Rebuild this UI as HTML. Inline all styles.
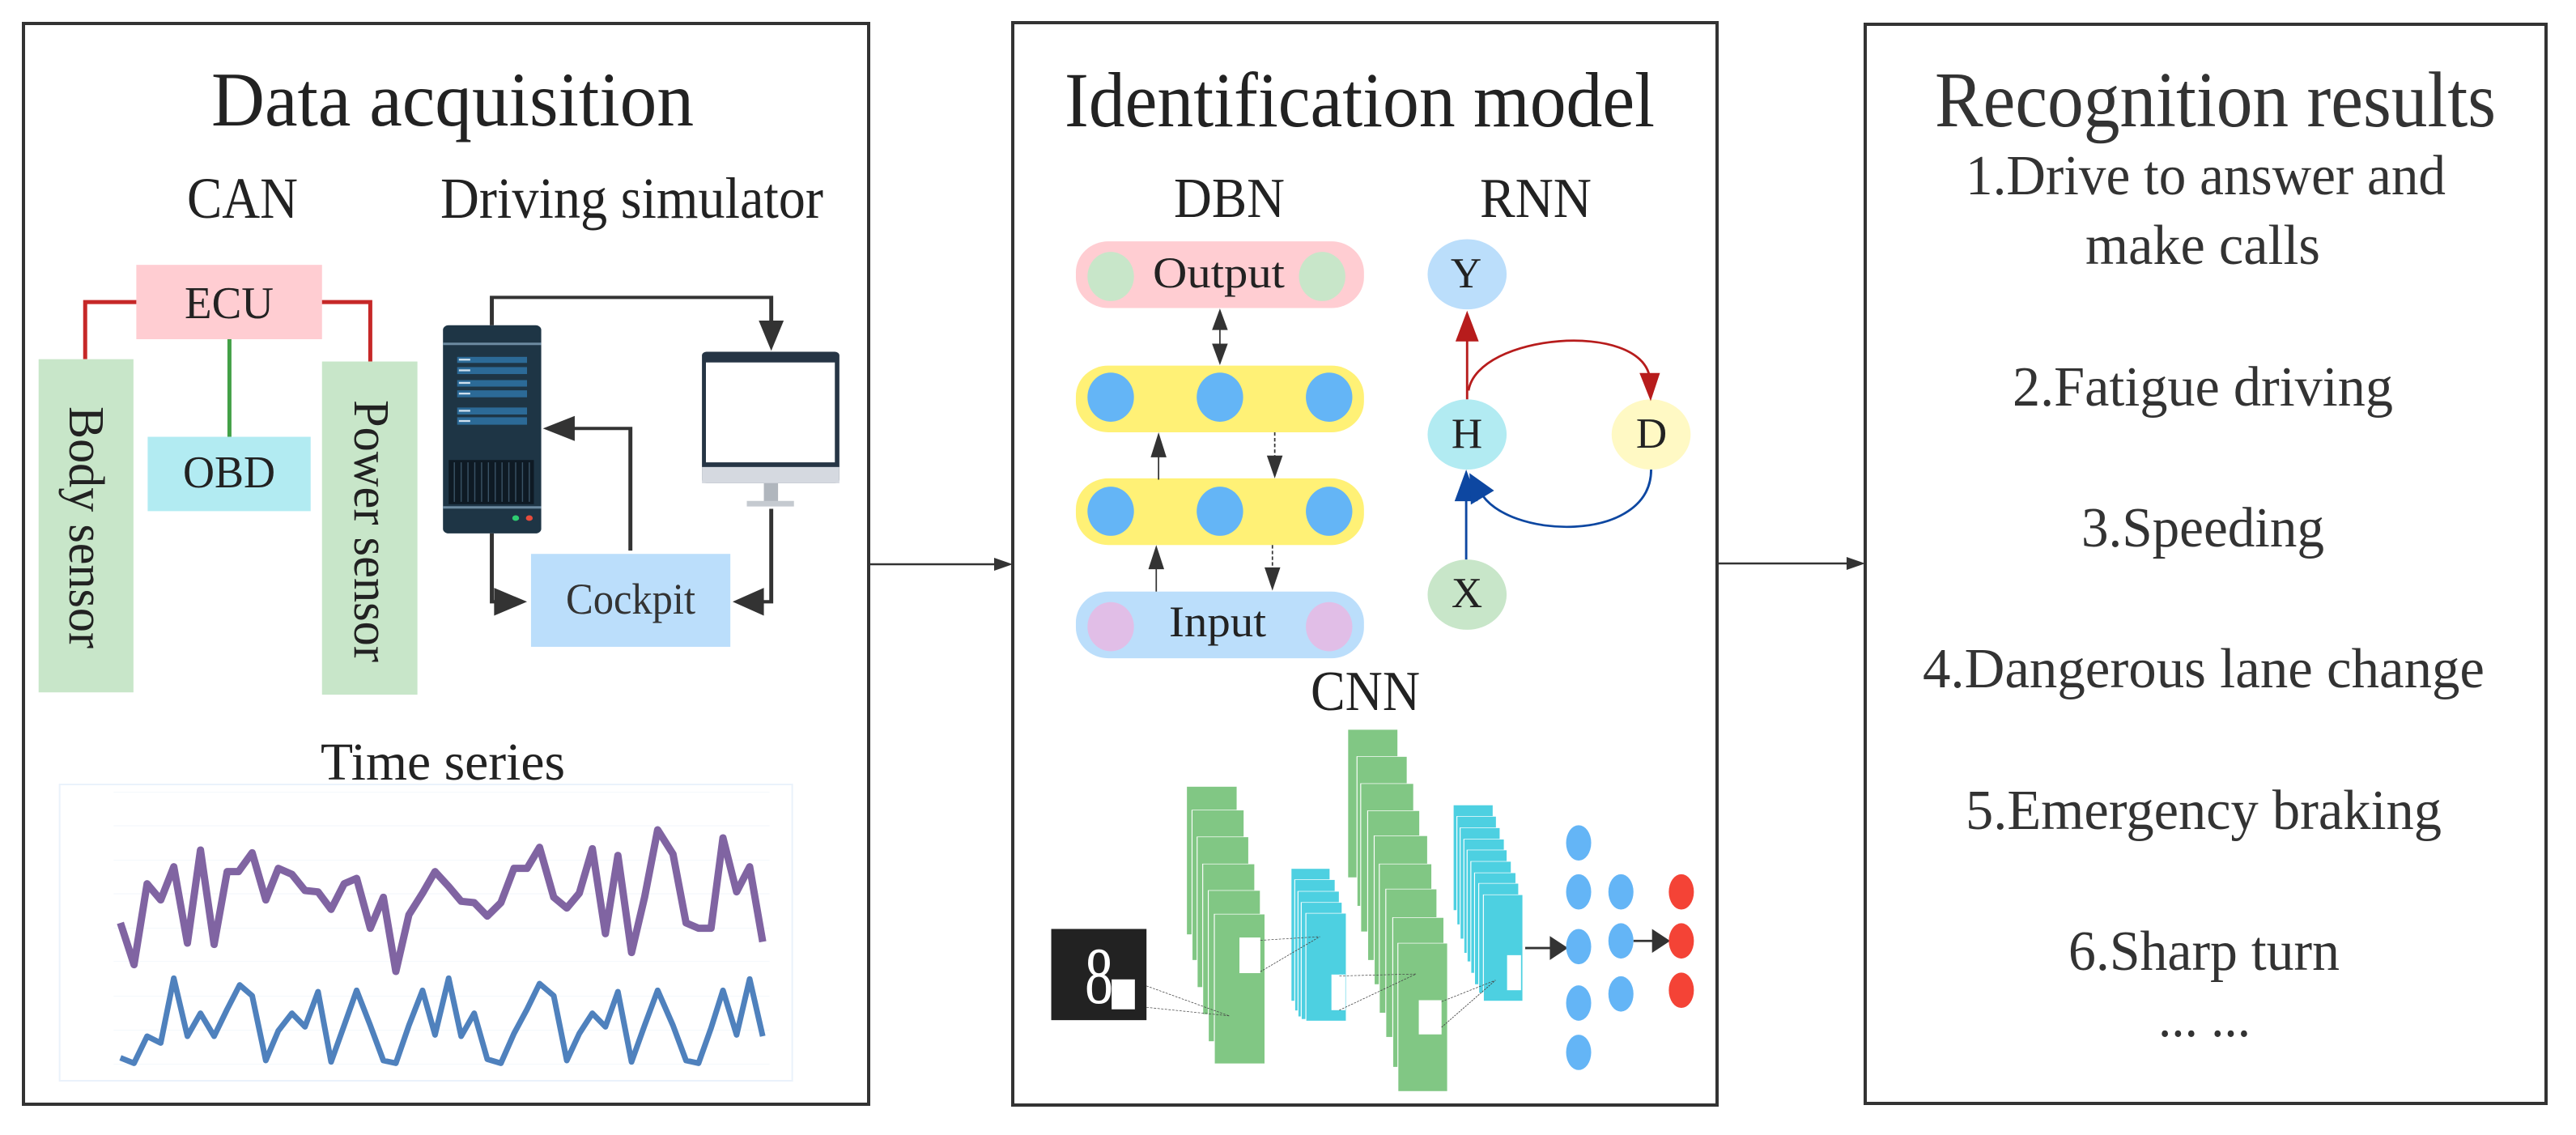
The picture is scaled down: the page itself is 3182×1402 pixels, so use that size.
<!DOCTYPE html>
<html><head><meta charset="utf-8"><style>
html,body{margin:0;padding:0;background:#fff}
#c{position:relative;width:3182px;height:1402px;overflow:hidden;background:#fff}
svg{position:absolute;overflow:visible}
svg text{font-family:"Liberation Serif","DejaVu Serif","Noto Serif CJK SC",serif !important}
</style></head><body><div id="c">

<svg style="left:0;top:0" width="1100" height="900" viewBox="0 0 1568 1568" preserveAspectRatio="none">
<rect x="240" y="570" width="327" height="160" fill="#ffcdd2"/>
<polyline points="240,650 150,650 150,773" fill="none" stroke="#c62828" stroke-width="5" vector-effect="non-scaling-stroke"/>
<polyline points="567,650 652,650 652,778" fill="none" stroke="#c62828" stroke-width="5" vector-effect="non-scaling-stroke"/>
<line x1="404" y1="730" x2="404" y2="940" stroke="#43a047" stroke-width="5" vector-effect="non-scaling-stroke"/>
<rect x="260" y="940" width="287" height="160" fill="#b2ebf2"/>
<rect x="68" y="773" width="167" height="717" fill="#c8e6c9"/>
<rect x="567" y="778" width="168" height="717" fill="#c8e6c9"/>
<rect x="780" y="700" width="173" height="448" rx="10" fill="#1e3545"/>
<line x1="780" y1="740" x2="953" y2="740" stroke="#6c8aa0" stroke-width="3" vector-effect="non-scaling-stroke"/>
<line x1="780" y1="1092" x2="953" y2="1092" stroke="#6c8aa0" stroke-width="3" vector-effect="non-scaling-stroke"/>
<g fill="#2c6a97"><rect x="805" y="768" width="123" height="13"/><rect x="805" y="790" width="123" height="15"/><rect x="805" y="818" width="123" height="14"/><rect x="805" y="840" width="123" height="15"/><rect x="805" y="877" width="123" height="15"/><rect x="805" y="898" width="123" height="16"/></g>
<g fill="#cfe0ee"><rect x="808" y="772" width="20" height="4"/><rect x="808" y="795" width="20" height="4"/><rect x="808" y="822" width="20" height="4"/><rect x="808" y="845" width="20" height="4"/><rect x="808" y="882" width="20" height="4"/><rect x="808" y="904" width="20" height="4"/></g>
<rect x="790" y="990" width="150" height="95" fill="#0e1a24"/>
<g stroke="#3a5366" stroke-width="2" vector-effect="non-scaling-stroke">
<line x1="800" y1="995" x2="800" y2="1080"/><line x1="812" y1="995" x2="812" y2="1080"/><line x1="824" y1="995" x2="824" y2="1080"/><line x1="836" y1="995" x2="836" y2="1080"/><line x1="848" y1="995" x2="848" y2="1080"/><line x1="860" y1="995" x2="860" y2="1080"/><line x1="872" y1="995" x2="872" y2="1080"/><line x1="884" y1="995" x2="884" y2="1080"/><line x1="896" y1="995" x2="896" y2="1080"/><line x1="908" y1="995" x2="908" y2="1080"/><line x1="920" y1="995" x2="920" y2="1080"/><line x1="932" y1="995" x2="932" y2="1080"/></g>
<ellipse cx="908" cy="1115" rx="6" ry="6" fill="#2ecc71"/><ellipse cx="932" cy="1115" rx="6" ry="6" fill="#e74c3c"/>
<rect x="1236" y="757" width="242" height="283" rx="8" fill="#263545"/>
<rect x="1243" y="780" width="227" height="215" fill="#fff"/>
<rect x="1236" y="1005" width="242" height="35" fill="#d5d9e0"/>
<rect x="1345" y="1040" width="25" height="40" fill="#b0b6bd"/>
<rect x="1315" y="1078" width="83" height="12" fill="#c5cad0"/>
<g fill="none" stroke="#333" stroke-width="7" vector-effect="non-scaling-stroke">
<polyline points="866,700 866,640 1358,640 1358,700"/>
<polyline points="866,1148 866,1295 885,1295"/>
<polyline points="1110,1185 1110,922 1005,922"/>
<polyline points="1358,1095 1358,1295 1340,1295"/>
</g>
<g fill="#333">
<polygon points="1336,690 1380,690 1358,755"/>
<polygon points="870,1265 870,1325 928,1295"/>
<polygon points="1012,895 1012,949 956,922"/>
<polygon points="1345,1265 1345,1325 1290,1295"/>
</g>
<rect x="935" y="1192" width="351" height="200" fill="#bbdefb"/>
</svg>

<svg style="left:0;top:900" width="1100" height="502" viewBox="0 0 1568 1506" preserveAspectRatio="none">
<rect x="105" y="207" width="1290" height="1098" fill="#fff" stroke="#eaf2fb" stroke-width="2" vector-effect="non-scaling-stroke"/>
<g stroke="#eef3fa" stroke-width="2" vector-effect="non-scaling-stroke">
<line x1="200" y1="235" x2="1355" y2="235"/><line x1="200" y1="360" x2="1355" y2="360"/><line x1="200" y1="487" x2="1355" y2="487"/><line x1="200" y1="612" x2="1355" y2="612"/><line x1="200" y1="740" x2="1355" y2="740"/><line x1="200" y1="862" x2="1355" y2="862"/><line x1="200" y1="992" x2="1355" y2="992"/><line x1="200" y1="1117" x2="1355" y2="1117"/><line x1="200" y1="1243" x2="1355" y2="1243"/></g>
<polyline fill="none" stroke="#8064a2" stroke-width="9" stroke-linejoin="round" vector-effect="non-scaling-stroke" points="212,720 236,875 259,575 283,635 306,512 330,795 353,450 377,800 400,530 420,530 444,460 468,635 490,518 514,540 537,600 560,605 583,670 606,575 628,555 652,740 675,625 697,900 720,690 744,610 766,530 790,585 812,640 835,645 858,695 882,645 905,518 928,518 950,440 975,625 998,665 1020,610 1043,445 1066,760 1088,470 1112,830 1135,625 1158,375 1185,465 1208,720 1230,740 1252,740 1273,405 1297,605 1320,512 1343,790"/>
<polyline fill="none" stroke="#4f81bd" stroke-width="7" stroke-linejoin="round" vector-effect="non-scaling-stroke" points="212,1220 236,1240 259,1140 283,1165 306,925 330,1140 353,1055 377,1140 400,1040 422,950 444,990 468,1230 490,1120 514,1055 537,1105 560,975 583,1235 606,1100 628,970 652,1100 675,1230 697,1240 720,1100 744,970 766,1135 790,925 812,1140 835,1055 858,1225 882,1240 905,1130 928,1040 950,945 975,990 998,1230 1020,1130 1043,1055 1066,1105 1088,975 1112,1235 1135,1100 1158,970 1185,1100 1208,1230 1230,1240 1252,1110 1273,970 1297,1135 1320,928 1343,1140"/>
</svg>

<svg style="left:1240px;top:0" width="900" height="850" viewBox="0 0 1568 1568" preserveAspectRatio="none">
<rect x="155" y="550" width="620" height="152" rx="70" ry="70" fill="#ffcdd2"/>
<ellipse cx="230" cy="630" rx="50" ry="56" fill="#c8e6c9"/><ellipse cx="685" cy="630" rx="50" ry="56" fill="#c8e6c9"/>
<rect x="155" y="833" width="620" height="152" rx="70" ry="70" fill="#fff176"/>
<rect x="155" y="1090" width="620" height="152" rx="70" ry="70" fill="#fff176"/>
<g fill="#64b5f6"><ellipse cx="230" cy="905" rx="50" ry="56"/><ellipse cx="465" cy="905" rx="50" ry="56"/><ellipse cx="700" cy="905" rx="50" ry="56"/>
<ellipse cx="230" cy="1165" rx="50" ry="56"/><ellipse cx="465" cy="1165" rx="50" ry="56"/><ellipse cx="700" cy="1165" rx="50" ry="56"/></g>
<rect x="155" y="1348" width="620" height="152" rx="70" ry="70" fill="#bbdefb"/>
<ellipse cx="230" cy="1428" rx="50" ry="56" fill="#e1bee7"/><ellipse cx="700" cy="1428" rx="50" ry="56" fill="#e1bee7"/>
<g stroke="#333" stroke-width="3" vector-effect="non-scaling-stroke">
<line x1="465" y1="740" x2="465" y2="795"/><line x1="333" y1="1035" x2="333" y2="1093"/><line x1="328" y1="1290" x2="328" y2="1348"/></g>
<g stroke="#333" stroke-width="3" stroke-dasharray="8,5" vector-effect="non-scaling-stroke">
<line x1="583" y1="985" x2="583" y2="1045"/><line x1="578" y1="1242" x2="578" y2="1300"/></g>
<g fill="#333">
<polygon points="448,752 482,752 465,703"/><polygon points="448,783 482,783 465,832"/>
<polygon points="316,1042 350,1042 333,985"/><polygon points="311,1297 345,1297 328,1242"/>
<polygon points="566,1038 600,1038 583,1090"/><polygon points="561,1293 595,1293 578,1346"/></g>
<ellipse cx="997" cy="625" rx="85" ry="80" fill="#bbdefb"/>
<ellipse cx="997" cy="990" rx="85" ry="80" fill="#b2ebf2"/>
<ellipse cx="1393" cy="990" rx="85" ry="80" fill="#fff9c4"/>
<ellipse cx="997" cy="1355" rx="85" ry="80" fill="#c8e6c9"/>
<g fill="none" stroke="#b71c1c" stroke-width="5" vector-effect="non-scaling-stroke">
<line x1="997" y1="910" x2="997" y2="760"/>
<path d="M1000,890 C1020,760 1370,730 1390,860"/></g>
<g fill="#b71c1c"><polygon points="972,778 1022,778 997,708"/><polygon points="1368,850 1412,850 1392,914"/></g>
<g fill="none" stroke="#0d47a1" stroke-width="5" vector-effect="non-scaling-stroke">
<line x1="995" y1="1275" x2="995" y2="1130"/>
<path d="M1393,1070 C1393,1240 1080,1230 1025,1120"/></g>
<g fill="#0d47a1"><polygon points="970,1142 1020,1142 995,1070"/><polygon points="1005,1150 1055,1118 1002,1078"/></g>
</svg>

<svg style="left:1240px;top:850px" width="900" height="552" viewBox="0 0 1568 1568" preserveAspectRatio="none">
<rect x="102" y="845" width="205" height="320" fill="#222"/>
<rect x="232" y="1022" width="50" height="105" fill="#fff"/>
<g fill="#81c784" stroke="#fff" stroke-width="2" vector-effect="non-scaling-stroke">
<rect x="393" y="345" width="109" height="520"/><rect x="405" y="428" width="112" height="527"/><rect x="416" y="522" width="111" height="528"/><rect x="428" y="617" width="112" height="528"/><rect x="440" y="710" width="112" height="530"/><rect x="453" y="793" width="109" height="525"/></g>
<rect x="507" y="875" width="45" height="125" fill="#fff"/>
<g fill="#4dd0e1" stroke="#fff" stroke-width="2" vector-effect="non-scaling-stroke">
<rect x="618" y="633" width="84" height="465"/><rect x="626" y="672" width="87" height="460"/><rect x="633" y="713" width="89" height="440"/><rect x="640" y="752" width="88" height="410"/><rect x="650" y="790" width="87" height="378"/></g>
<rect x="705" y="1005" width="30" height="125" fill="#fff"/>
<g fill="#81c784" stroke="#fff" stroke-width="2" vector-effect="non-scaling-stroke">
<rect x="740" y="145" width="108" height="520"/><rect x="760" y="240" width="108" height="525"/><rect x="768" y="335" width="114" height="520"/><rect x="783" y="430" width="112" height="525"/><rect x="797" y="518" width="115" height="522"/><rect x="808" y="617" width="113" height="523"/><rect x="822" y="705" width="110" height="520"/><rect x="837" y="805" width="110" height="525"/><rect x="848" y="895" width="107" height="520"/></g>
<rect x="893" y="1095" width="49" height="120" fill="#fff"/>
<g fill="#4dd0e1" stroke="#fff" stroke-width="2" vector-effect="non-scaling-stroke">
<rect x="967" y="410" width="86" height="370"/><rect x="975" y="450" width="85" height="380"/><rect x="982" y="490" width="86" height="390"/><rect x="990" y="530" width="87" height="400"/><rect x="997" y="568" width="86" height="392"/><rect x="1005" y="608" width="87" height="392"/><rect x="1013" y="648" width="89" height="392"/><rect x="1022" y="685" width="86" height="385"/><rect x="1032" y="725" width="85" height="373"/></g>
<rect x="1083" y="937" width="30" height="123" fill="#fff"/>
<g stroke="#444" stroke-width="2" stroke-dasharray="5,3" vector-effect="non-scaling-stroke" fill="none">
<line x1="307" y1="1045" x2="485" y2="1150"/><line x1="307" y1="1120" x2="485" y2="1150"/>
<line x1="552" y1="885" x2="680" y2="872"/><line x1="552" y1="995" x2="680" y2="872"/>
<line x1="722" y1="1010" x2="887" y2="1003"/><line x1="722" y1="1130" x2="887" y2="1003"/>
<line x1="942" y1="1100" x2="1058" y2="1025"/><line x1="942" y1="1190" x2="1058" y2="1025"/></g>
<g stroke="#333" stroke-width="8" vector-effect="non-scaling-stroke"><line x1="1122" y1="912" x2="1185" y2="912"/><line x1="1355" y1="887" x2="1405" y2="887"/></g>
<g fill="#333"><polygon points="1175,870 1175,954 1214,912"/><polygon points="1395,845 1395,929 1434,887"/></g>
<g fill="#64b5f6"><ellipse cx="1237" cy="543" rx="27" ry="62"/><ellipse cx="1237" cy="715" rx="27" ry="62"/><ellipse cx="1237" cy="907" rx="27" ry="62"/><ellipse cx="1237" cy="1105" rx="27" ry="62"/><ellipse cx="1237" cy="1278" rx="27" ry="62"/>
<ellipse cx="1328" cy="715" rx="27" ry="62"/><ellipse cx="1328" cy="887" rx="27" ry="62"/><ellipse cx="1328" cy="1073" rx="27" ry="62"/></g>
<g fill="#f44336"><ellipse cx="1458" cy="715" rx="27" ry="62"/><ellipse cx="1458" cy="887" rx="27" ry="62"/><ellipse cx="1458" cy="1060" rx="27" ry="62"/></g>
</svg>

<svg style="left:0;top:0" width="3182" height="1402" viewBox="0 0 3182 1402" font-family="Liberation Serif, DejaVu Serif, serif">
<g fill="none" stroke="#333" stroke-width="4">
<rect x="29" y="29" width="1044" height="1335"/>
<rect x="1251" y="28" width="870" height="1337"/>
<rect x="2304" y="30" width="841" height="1333"/></g>
<g stroke="#333" stroke-width="2.5"><line x1="1073" y1="697" x2="1235" y2="697"/><line x1="2121" y1="696" x2="2288" y2="696"/></g>
<g fill="#333"><polygon points="1228,689 1228,705 1251,697"/><polygon points="2281,688 2281,704 2304,696"/></g>
<g fill="#222">
<text x="261" y="155" font-size="95" textLength="596" lengthAdjust="spacingAndGlyphs">Data acquisition</text>
<text x="231" y="269" font-size="72" textLength="137" lengthAdjust="spacingAndGlyphs">CAN</text>
<text x="544" y="269" font-size="72" textLength="473" lengthAdjust="spacingAndGlyphs">Driving simulator</text>
<text x="228" y="393" font-size="56" textLength="110" lengthAdjust="spacingAndGlyphs">ECU</text>
<text x="226" y="602" font-size="56" textLength="114" lengthAdjust="spacingAndGlyphs">OBD</text>
<text transform="translate(86,502) rotate(90)" font-size="62" textLength="299" lengthAdjust="spacingAndGlyphs">Body sensor</text>
<text transform="translate(438,494) rotate(90)" font-size="62" textLength="324" lengthAdjust="spacingAndGlyphs">Power sensor</text>
<text x="699" y="758" font-size="54" textLength="160" lengthAdjust="spacingAndGlyphs" fill="#333">Cockpit</text>
<text x="396" y="963" font-size="66" textLength="302" lengthAdjust="spacingAndGlyphs">Time series</text>
<text x="1315" y="156" font-size="96" textLength="729" lengthAdjust="spacingAndGlyphs">Identification model</text>
<text x="1450" y="268" font-size="70" textLength="137" lengthAdjust="spacingAndGlyphs">DBN</text>
<text x="1828" y="268" font-size="70" textLength="138" lengthAdjust="spacingAndGlyphs">RNN</text>
<text x="1424" y="355" font-size="54" textLength="163" lengthAdjust="spacingAndGlyphs">Output</text>
<text x="1444" y="786" font-size="54" textLength="120" lengthAdjust="spacingAndGlyphs">Input</text>
<text x="1811" y="355" font-size="53" text-anchor="middle">Y</text>
<text x="1812" y="553" font-size="53" text-anchor="middle">H</text>
<text x="2040" y="553" font-size="53" text-anchor="middle">D</text>
<text x="1812" y="750" font-size="53" text-anchor="middle">X</text>
<text x="1619" y="877" font-size="70" textLength="135" lengthAdjust="spacingAndGlyphs">CNN</text>
<text x="1340" y="1239" font-size="100" fill="#fff" textLength="35" lengthAdjust="spacingAndGlyphs">8</text>
</g>
<g fill="#333">
<text x="2390" y="156" font-size="98" textLength="693" lengthAdjust="spacingAndGlyphs">Recognition results</text>
<text x="2428" y="240" font-size="70" textLength="593" lengthAdjust="spacingAndGlyphs">1.Drive to answer and</text>
<text x="2576" y="326" font-size="70" textLength="290" lengthAdjust="spacingAndGlyphs">make calls</text>
<text x="2486" y="501" font-size="70" textLength="470" lengthAdjust="spacingAndGlyphs">2.Fatigue driving</text>
<text x="2571" y="675" font-size="70" textLength="300" lengthAdjust="spacingAndGlyphs">3.Speeding</text>
<text x="2375" y="849" font-size="70" textLength="694" lengthAdjust="spacingAndGlyphs">4.Dangerous lane change</text>
<text x="2428" y="1024" font-size="70" textLength="588" lengthAdjust="spacingAndGlyphs">5.Emergency braking</text>
<text x="2555" y="1198" font-size="70" textLength="335" lengthAdjust="spacingAndGlyphs">6.Sharp turn</text>
<text x="2666" y="1280" font-size="70" textLength="114" lengthAdjust="spacingAndGlyphs">... ...</text>
</g>
</svg>
</div></body></html>
